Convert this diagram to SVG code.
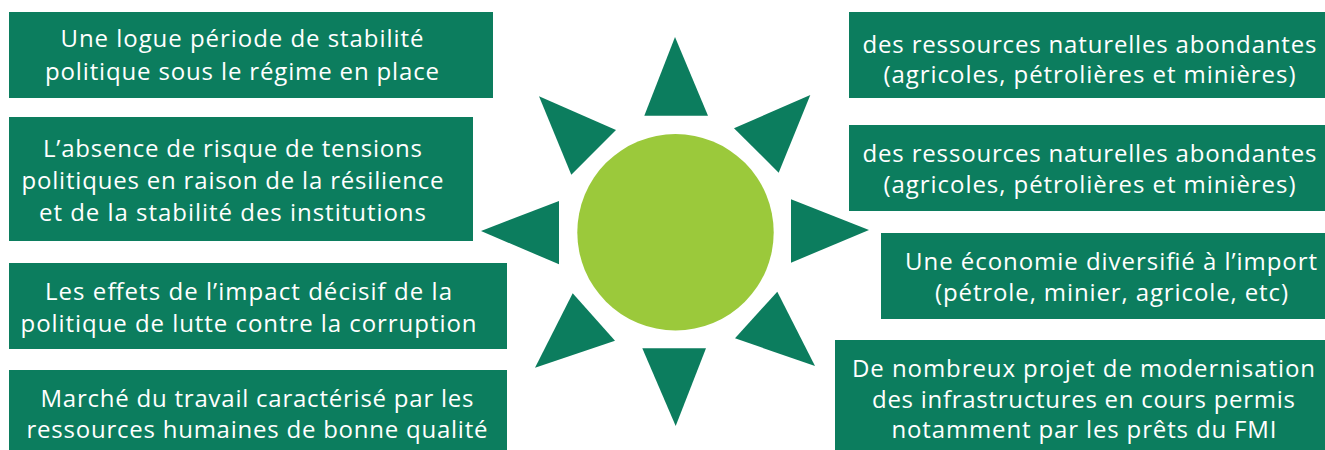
<svg xmlns="http://www.w3.org/2000/svg" width="1325" height="450" viewBox="0 0 1325 450">
  <style>
    .box { fill: #0c7d5e; }
    .ray { fill: #0c7d5e; }
    .sun { fill: #9bc93b; }
    .lbl { font-family: "Open Sans", "Noto Sans", "Liberation Sans", sans-serif; font-size: 24px; fill: #ffffff; text-anchor: middle; }
  </style>

  <!-- left column -->
  <g id="node-stabilite">
    <rect class="box" x="9" y="12" width="484" height="86"/>
    <text class="lbl"><tspan x="242" y="47" textLength="363">Une logue période de stabilité</tspan><tspan x="242" y="80" textLength="394">politique sous le régime en place</tspan></text>
  </g>
  <g id="node-tensions">
    <rect class="box" x="9" y="117" width="464" height="124"/>
    <text class="lbl"><tspan x="232.5" y="157" textLength="379">L’absence de risque de tensions</tspan><tspan x="232.5" y="189" textLength="422">politiques en raison de la résilience</tspan><tspan x="232.5" y="221" textLength="387">et de la stabilité des institutions</tspan></text>
  </g>
  <g id="node-corruption">
    <rect class="box" x="9" y="263" width="498" height="86"/>
    <text class="lbl"><tspan x="248.5" y="300" textLength="407">Les effets de l’impact décisif de la</tspan><tspan x="248.5" y="332" textLength="456">politique de lutte contre la corruption</tspan></text>
  </g>
  <g id="node-travail">
    <rect class="box" x="9" y="370" width="498" height="80"/>
    <text class="lbl"><tspan x="257" y="407" textLength="433">Marché du travail caractérisé par les</tspan><tspan x="257" y="438" textLength="461">ressources humaines de bonne qualité</tspan></text>
  </g>

  <!-- right column -->
  <g id="node-ressources-1">
    <rect class="box" x="849" y="12" width="476" height="86"/>
    <text class="lbl"><tspan x="1089.5" y="52.5" textLength="454">des ressources naturelles abondantes</tspan><tspan x="1089.5" y="83" textLength="412">(agricoles, pétrolières et minières)</tspan></text>
  </g>
  <g id="node-ressources-2">
    <rect class="box" x="849" y="125" width="476" height="86"/>
    <text class="lbl"><tspan x="1089.5" y="162" textLength="454">des ressources naturelles abondantes</tspan><tspan x="1089.5" y="193" textLength="412">(agricoles, pétrolières et minières)</tspan></text>
  </g>
  <g id="node-economie">
    <rect class="box" x="881" y="233" width="444" height="86"/>
    <text class="lbl"><tspan x="1111" y="270" textLength="412">Une économie diversifié à l’import</tspan><tspan x="1111.5" y="301" textLength="353">(pétrole, minier, agricole, etc)</tspan></text>
  </g>
  <g id="node-infrastructures">
    <rect class="box" x="835" y="340" width="490" height="110"/>
    <text class="lbl"><tspan x="1083.5" y="377" textLength="463">De nombreux projet de modernisation</tspan><tspan x="1083.5" y="408" textLength="423">des infrastructures en cours permis</tspan><tspan x="1084" y="438" textLength="385">notamment par les prêts du FMI</tspan></text>
  </g>

  <!-- central sun -->
  <g id="sun">
    <circle class="sun" cx="675.5" cy="232.3" r="98.2"/>
  </g>
  <g id="rays">
    <polygon class="ray" points="675,37 708,115.7 644.3,115.7"/>
    <polygon class="ray" points="539,96.3 616,130 571.3,174.7"/>
    <polygon class="ray" points="810.3,95 734,128.3 778.7,172.7"/>
    <polygon class="ray" points="481,231 559,201 559,264.3"/>
    <polygon class="ray" points="869,230 791,199.3 791,262.7"/>
    <polygon class="ray" points="572.7,293.3 615,340.7 535,367.7"/>
    <polygon class="ray" points="777.3,291.7 815,366 735,338.3"/>
    <polygon class="ray" points="675.7,426 642.3,348.3 706,348.3"/>
  </g>
</svg>
